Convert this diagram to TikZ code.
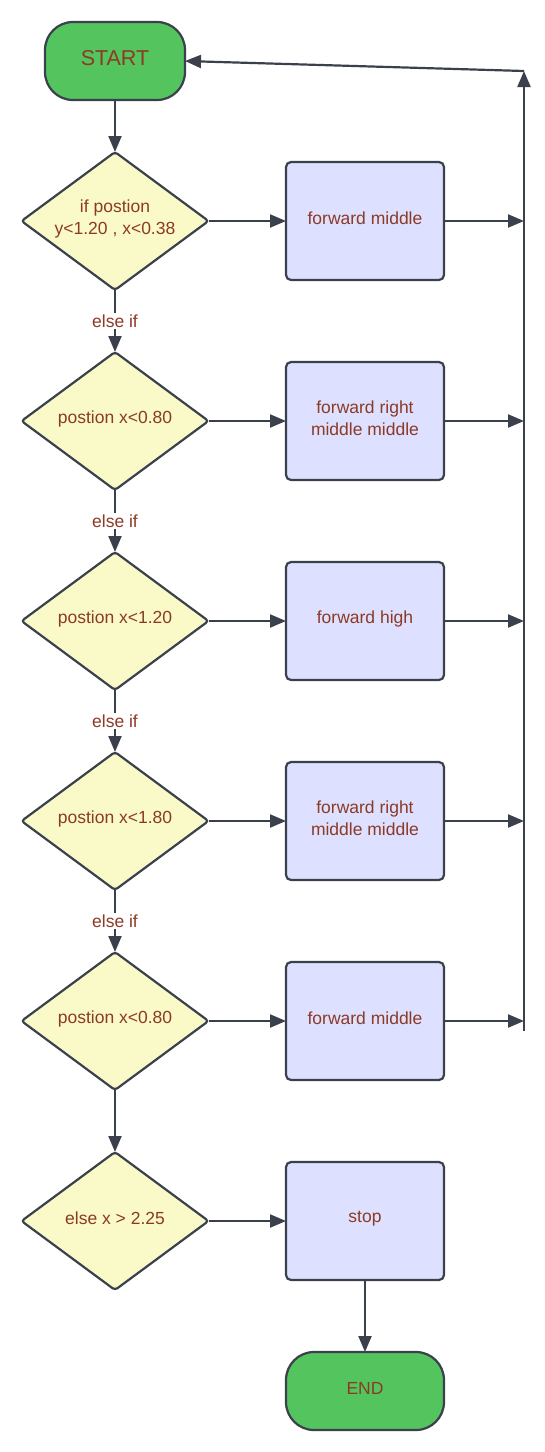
\documentclass[tikz,border=0pt]{standalone}
\usepackage{fontspec}
\setmainfont{Liberation Sans}
\usetikzlibrary{shapes.geometric,arrows.meta}
\definecolor{stroke}{RGB}{58,65,76}
\definecolor{txt}{RGB}{140,58,38}
\definecolor{grn}{RGB}{84,196,94}
\definecolor{ylw}{RGB}{250,250,200}
\definecolor{lav}{RGB}{222,224,255}
\begin{document}
\begin{tikzpicture}[x=1pt,y=-1pt]
\tikzset{
  base/.style={draw=stroke, line width=2.2pt, inner sep=0pt, outer sep=0pt},
  term/.style={base, fill=grn, rounded corners=28pt, minimum width=#1, minimum height=78pt},
  dec/.style={base, diamond, fill=ylw, rounded corners=3pt, minimum width=187pt, minimum height=138pt},
  proc/.style={base, fill=lav, rounded corners=5pt, minimum width=158pt, minimum height=118pt},
  tx/.style={label={[font=\fontsize{17.5}{22}\selectfont, text=txt, align=center, yshift=2.5pt]center:{#1}}},
  bigtx/.style={label={[font=\fontsize{21.5}{24}\selectfont, text=txt, align=center, yshift=3pt]center:{#1}}},
  arr/.style={draw=stroke, line width=2.2pt, -{Triangle[length=16pt,width=13pt]}},
  lbl/.style={fill=white, inner sep=2pt, text=txt, font=\fontsize{17.5}{22}\selectfont},
}
\useasboundingbox (0,0) rectangle (545,1452);

\node[term=140pt, bigtx={START}] (start) at (115,61) {};
\node[dec, tx={if postion\\y<1.20 , x<0.38}] (d1) at (115,221) {};
\node[dec, tx={postion x<0.80}] (d2) at (115,421) {};
\node[dec, tx={postion x<1.20}] (d3) at (115,621) {};
\node[dec, tx={postion x<1.80}] (d4) at (115,821) {};
\node[dec, tx={postion x<0.80}] (d5) at (115,1021) {};
\node[dec, tx={else x > 2.25}] (d6) at (115,1221) {};

\node[proc, tx={forward middle}] (b1) at (365,221) {};
\node[proc, tx={forward right\\middle middle}] (b2) at (365,421) {};
\node[proc, tx={forward high}] (b3) at (365,621) {};
\node[proc, tx={forward right\\middle middle}] (b4) at (365,821) {};
\node[proc, tx={forward middle}] (b5) at (365,1021) {};
\node[proc, tx={stop}] (b6) at (365,1221) {};
\node[term=158pt, tx={END}] (end) at (365,1391) {};

\coordinate (rt) at (524,71);
\coordinate (rb) at (524,1031);

\draw[arr] (start) -- (d1);
\draw[arr] (d1) -- node[lbl] {else if} (d2);
\draw[arr] (d2) -- node[lbl] {else if} (d3);
\draw[arr] (d3) -- node[lbl] {else if} (d4);
\draw[arr] (d4) -- node[lbl] {else if} (d5);
\draw[arr] (d5) -- (d6);

\foreach \i in {1,...,6} {
  \draw[arr] (d\i) -- (b\i);
}
\foreach \i in {1,...,5} {
  \draw[arr] (b\i.east) -- (b\i.east -| rb);
}
\draw[arr] (b6) -- (end);

\draw[arr] (rb) -- (rt);
\draw[arr] (rt) -- (start.east);
\end{tikzpicture}
\end{document}
